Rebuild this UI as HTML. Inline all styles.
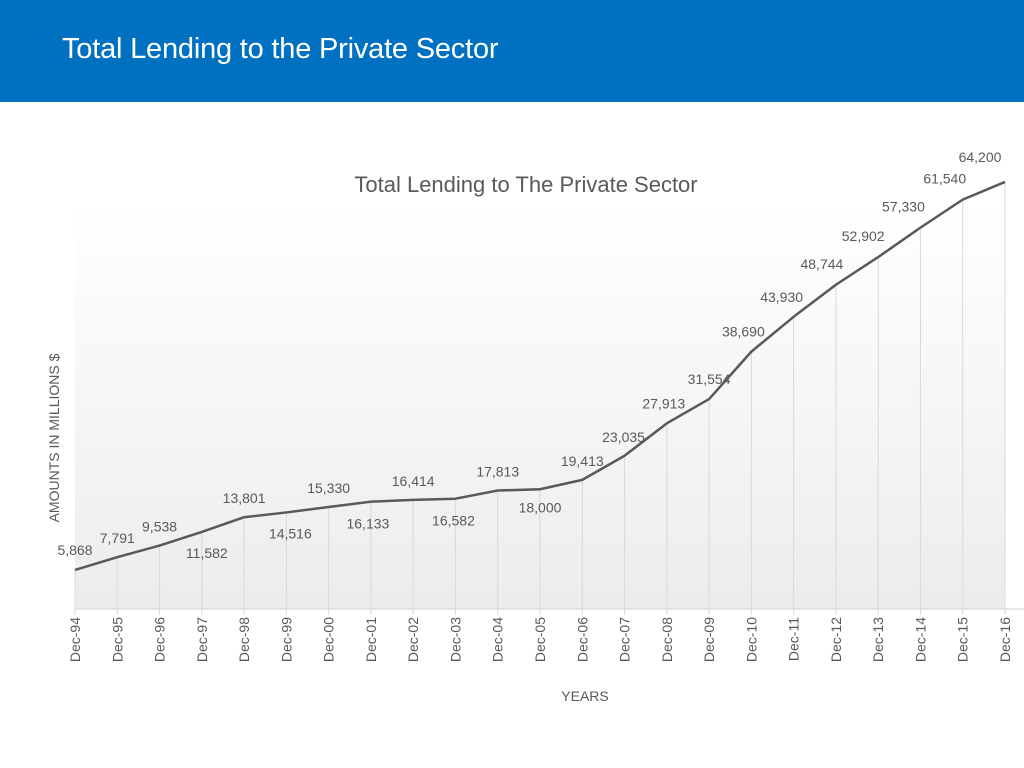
<!DOCTYPE html>
<html><head><meta charset="utf-8"><style>
body{margin:0;width:1024px;height:768px;overflow:hidden;background:#fff;font-family:"Liberation Sans",sans-serif}
#hdr{position:absolute;left:0;top:0;width:1024px;height:102px;background:#0070C0}
#hdr h1{position:absolute;left:62px;top:33px;margin:0;font-weight:normal;font-size:29px;color:#fff;letter-spacing:-0.2px}
svg{position:absolute;left:0;top:0}
</style></head><body>
<div id="hdr"><h1>Total Lending to the Private Sector</h1></div>
<svg id="chart" width="1024" height="768">
<defs><linearGradient id="bg" x1="0" y1="0" x2="0" y2="1"><stop offset="0" stop-color="#fff"/><stop offset="1" stop-color="#ececec"/></linearGradient></defs>
<rect x="75" y="205" width="930" height="404" fill="url(#bg)"/>
<text x="526" y="192" text-anchor="middle" font-size="22" fill="#595959">Total Lending to The Private Sector</text>
<text x="585" y="701" text-anchor="middle" font-size="14" fill="#595959">YEARS</text>
<text transform="translate(59,438) rotate(-90)" text-anchor="middle" font-size="14" fill="#595959">AMOUNTS IN MILLIONS $</text>
<g id="marks"></g>
</svg>
<script>
const categories=["Dec-94","Dec-95","Dec-96","Dec-97","Dec-98","Dec-99","Dec-00","Dec-01","Dec-02","Dec-03","Dec-04","Dec-05","Dec-06","Dec-07","Dec-08","Dec-09","Dec-10","Dec-11","Dec-12","Dec-13","Dec-14","Dec-15","Dec-16"];
const values=[5868,7791,9538,11582,13801,14516,15330,16133,16414,16582,17813,18000,19413,23035,27913,31554,38690,43930,48744,52902,57330,61540,64200];
const labelDx=[0,0,0,5,0,4,0,-3,0,-2,0,0,0,-1,-3,0,-8,-12,-14,-15,-17,-18,0];
const labelDy=[-15,-14,-14,26,-14,26,-14,27,-14,27,-14,23,-14,-14,-15,-15,-15,-15,-16,-16,-16,-16,-14];
const x0=75,x1=1005,yBase=609,yScale=0.006652;
const X=i=>x0+i*(x1-x0)/(categories.length-1);
const Y=v=>yBase-v*yScale;
const g=document.getElementById('marks');
const NS="http://www.w3.org/2000/svg";
function mk(t,a){const e=document.createElementNS(NS,t);for(const k in a)e.setAttribute(k,a[k]);g.appendChild(e);return e;}
const ax=mk('line',{x1:x0,y1:yBase,x2:1024,y2:yBase,stroke:'#d9d9d9','stroke-width':1.3});


categories.forEach((c,i)=>{
  const x=X(i);
  const d=mk('line',{x1:x,y1:Y(values[i]),x2:x,y2:yBase,stroke:'#d9d9d9','stroke-width':1});
  
  
  const tk=mk('line',{x1:x,y1:yBase,x2:x,y2:yBase+6,stroke:'#d9d9d9','stroke-width':1});
  
  
  const t=mk('text',{transform:`translate(${x+5},617) rotate(-90)`,'text-anchor':'end','font-size':14,fill:'#595959'});
  t.textContent=c;
  
  
});
const line=mk('polyline',{points:values.map((v,i)=>X(i)+','+Y(v)).join(' '),fill:'none',stroke:'#595959','stroke-width':2.5,'stroke-linejoin':'round'});


values.forEach((v,i)=>{
  const t=mk('text',{x:X(i)+labelDx[i]-(i==22?25:0),y:Y(v)+labelDy[i]-(i==22?6:0),'text-anchor':'middle','font-size':14,fill:'#595959'});
  t.textContent=v.toLocaleString('en-US');
  
  
});
</script>
</body></html>
